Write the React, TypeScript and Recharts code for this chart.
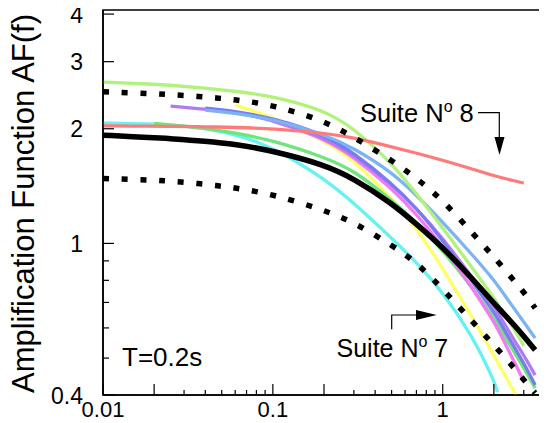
import { LineChart, Line, XAxis, YAxis, ReferenceArea } from "recharts";

// frequency grid (Hz)
const freqs = [0.01, 0.02, 0.025, 0.04, 0.06, 0.1, 0.2, 0.3, 0.5, 0.7, 1, 1.5, 2, 2.1, 2.7, 3, 3.5];

// amplification values (null = curve not drawn there)
const meanAF = [1.924, 1.895, 1.884, 1.856, 1.822, 1.75, 1.61, 1.48, 1.276, 1.124, 0.978, 0.806, 0.697, 0.681, 0.603, 0.571, 0.525];
const upperAF = [2.5, 2.473, 2.458, 2.425, 2.385, 2.31, 2.1, 1.901, 1.654, 1.484, 1.299, 1.064, 0.921, 0.899, 0.787, 0.745, 0.676];
const lowerAF = [1.481, 1.466, 1.457, 1.431, 1.399, 1.347, 1.223, 1.137, 0.99, 0.893, 0.759, 0.622, 0.541, 0.528, 0.465, 0.438, 0.405];
const limeAF = [2.651, 2.619, 2.603, 2.556, 2.51, 2.436, 2.238, 2.007, 1.625, 1.355, 1.097, 0.861, 0.719, 0.697, 0.585, 0.538, null];
const redAF = [2.035, 2.031, 2.028, 2.025, 2.016, 2.001, 1.948, 1.895, 1.793, 1.726, 1.654, 1.567, 1.506, 1.497, 1.457, 1.44, null];
const cyanAF = [2.069, 2.06, 2.046, 2.007, 1.936, 1.789, 1.484, 1.276, 1.033, 0.893, 0.745, 0.571, 0.438, 0.407, null, null, null];
const yellowAF = [null, null, null, null, 2.307, 2.146, 1.867, 1.654, 1.315, 1.097, 0.861, 0.637, 0.509, 0.488, 0.4, null, null];
const purpleAF = [null, null, 2.293, 2.252, 2.211, 2.107, 1.901, 1.705, 1.431, 1.238, 1.033, 0.811, 0.685, 0.66, 0.547, 0.509, 0.451];
const violetAF = [null, null, null, 2.265, 2.225, 2.132, 1.936, 1.726, 1.44, 1.238, 1.02, 0.791, 0.66, 0.637, 0.525, 0.485, 0.425];
const skyAF = [null, null, null, 2.238, 2.198, 2.12, 1.936, 1.779, 1.539, 1.339, 1.137, 0.932, 0.801, 0.777, 0.664, 0.622, 0.564];
const magentaAF = [null, null, null, null, null, 2.094, 1.889, 1.685, 1.397, 1.194, 0.984, 0.763, 0.622, 0.599, 0.479, 0.435, null];
const greenAF = [null, 2.065, 2.05, 2.007, 1.948, 1.867, 1.685, 1.557, 1.299, 1.137, 0.96, 0.763, 0.637, 0.614, 0.509, 0.471, 0.417];

// axis ticks
const xTicks = [0.01, 0.02, 0.03, 0.04, 0.05, 0.06, 0.07, 0.08, 0.09, 0.1, 0.2, 0.3, 0.4, 0.5, 0.6, 0.7, 0.8, 0.9, 1, 2, 3];
const xLong = [0.01, 0.02, 0.1, 0.2, 1, 2];
const xLabels = [0.01, 0.1, 1];
const yTicks = [0.4, 0.5, 0.6, 0.7, 0.8, 0.9, 1, 2, 3, 4];
const yLong = [0.4, 1, 2, 3, 4];
const yLabels = [0.4, 1, 2, 3, 4];

const data = freqs.map((f, i) => ({
  f,
  mean: meanAF[i],
  upper: upperAF[i],
  lower: lowerAF[i],
  lime: limeAF[i],
  red: redAF[i],
  cyan: cyanAF[i],
  yellow: yellowAF[i],
  purple: purpleAF[i],
  violet: violetAF[i],
  sky: skyAF[i],
  magenta: magentaAF[i],
  green: greenAF[i],
}));

const colored = [
  { key: "cyan", color: "#66f2f2" },
  { key: "yellow", color: "#ffff66" },
  { key: "green", color: "#6ee67a" },
  { key: "magenta", color: "#f27af2" },
  { key: "purple", color: "#b27af2" },
  { key: "violet", color: "#7a7af2" },
  { key: "sky", color: "#7ab4f2" },
  { key: "lime", color: "#b0f27a" },
  { key: "red", color: "#ff7a7a" },
];

const font = "'Liberation Sans', Arial, sans-serif";

const XTick = (props: any) => {
  const { x, y, payload } = props;
  const v = payload.value;
  return (
    <g>
      <line x1={x} x2={x} y1={y} y2={y - (xLong.includes(v) ? 11 : 5)} stroke="#000" strokeWidth={1.2} />
      {xLabels.includes(v) && (
        <text x={x} y={y + 22} textAnchor="middle" fontSize={22} fontFamily={font} fill="#000">
          {String(v)}
        </text>
      )}
    </g>
  );
};

const YTick = (props: any) => {
  const { x, y, payload } = props;
  const v = payload.value;
  return (
    <g>
      <line x1={x} x2={x + (yLong.includes(v) ? 11 : 6)} y1={y} y2={y} stroke="#000" strokeWidth={1.2} />
      {yLabels.includes(v) && (
        <text x={x - 20} y={y + 8.5} textAnchor="end" fontSize={23} fontFamily={font} fill="#000">
          {String(v)}
        </text>
      )}
    </g>
  );
};

const App = () => {
  return (
    <div style={{ position: "relative", width: 547, height: 440, margin: -8, fontFamily: font }}>
      <LineChart width={547} height={440} data={data} margin={{ top: 10, right: 2, left: 0, bottom: 0 }}>
        <XAxis
          dataKey="f"
          type="number"
          scale="log"
          domain={[0.01, 4]}
          allowDataOverflow
          ticks={xTicks}
          interval={0}
          tickSize={0}
          tickMargin={0}
          tickLine={false}
          tick={<XTick />}
          height={45}
          axisLine={{ stroke: "#000", strokeWidth: 1.5 }}
        />
        <YAxis
          type="number"
          scale="log"
          domain={[0.4, 4.1]}
          allowDataOverflow
          ticks={yTicks}
          interval={0}
          tickSize={0}
          tickMargin={0}
          tickLine={false}
          tick={<YTick />}
          width={103}
          axisLine={{ stroke: "#000", strokeWidth: 1.5 }}
        />
        <ReferenceArea x1={0.01} x2={4} y1={0.4} y2={4.1} fill="none" stroke="#000" strokeWidth={1.5} />
        {colored.map((s) => (
          <Line
            key={s.key}
            dataKey={s.key}
            type="basis"
            stroke={s.color}
            strokeWidth={3.3}
            dot={false}
            isAnimationActive={false}
          />
        ))}
        <Line dataKey="lower" type="basis" stroke="#000" strokeWidth={5.5} strokeDasharray="6 12.7" dot={false} isAnimationActive={false} />
        <Line dataKey="upper" type="basis" stroke="#000" strokeWidth={5.5} strokeDasharray="6 12.7" dot={false} isAnimationActive={false} />
        <Line dataKey="mean" type="basis" stroke="#000" strokeWidth={5.5} dot={false} isAnimationActive={false} />
      </LineChart>
      <svg width={547} height={440} style={{ position: "absolute", left: 0, top: 0, pointerEvents: "none" }}>
        <text
          x={33.5}
          y={203.5}
          transform="rotate(-90 33.5 203.5)"
          textAnchor="middle"
          fontSize={31}
          fontFamily={font}
          fill="#000"
        >
          Amplification Function AF(f)
        </text>
        <text x={122} y={366} fontSize={26} fontFamily={font} fill="#000">
          T=0.2s
        </text>
        <text x={360} y={121.5} fontSize={25.5} fontFamily={font} fill="#000">
          Suite N<tspan fontSize={16} dy={-10}>o</tspan>
          <tspan dy={10}> 8</tspan>
        </text>
        <polyline points="478,112.7 499.3,112.7 499.3,137" fill="none" stroke="#000" strokeWidth={1.2} />
        <polygon points="494.5,137 504.5,137 499.5,155" fill="#000" />
        <text x={336.5} y={356.5} fontSize={25} fontFamily={font} fill="#000">
          Suite N<tspan fontSize={16} dy={-10}>o</tspan>
          <tspan dy={10}> 7</tspan>
        </text>
        <polyline points="391.7,329.3 391.7,315 417,315" fill="none" stroke="#000" strokeWidth={1.2} />
        <polygon points="416,310 416,320 436.7,315" fill="#000" />
      </svg>
    </div>
  );
};

export default App;
